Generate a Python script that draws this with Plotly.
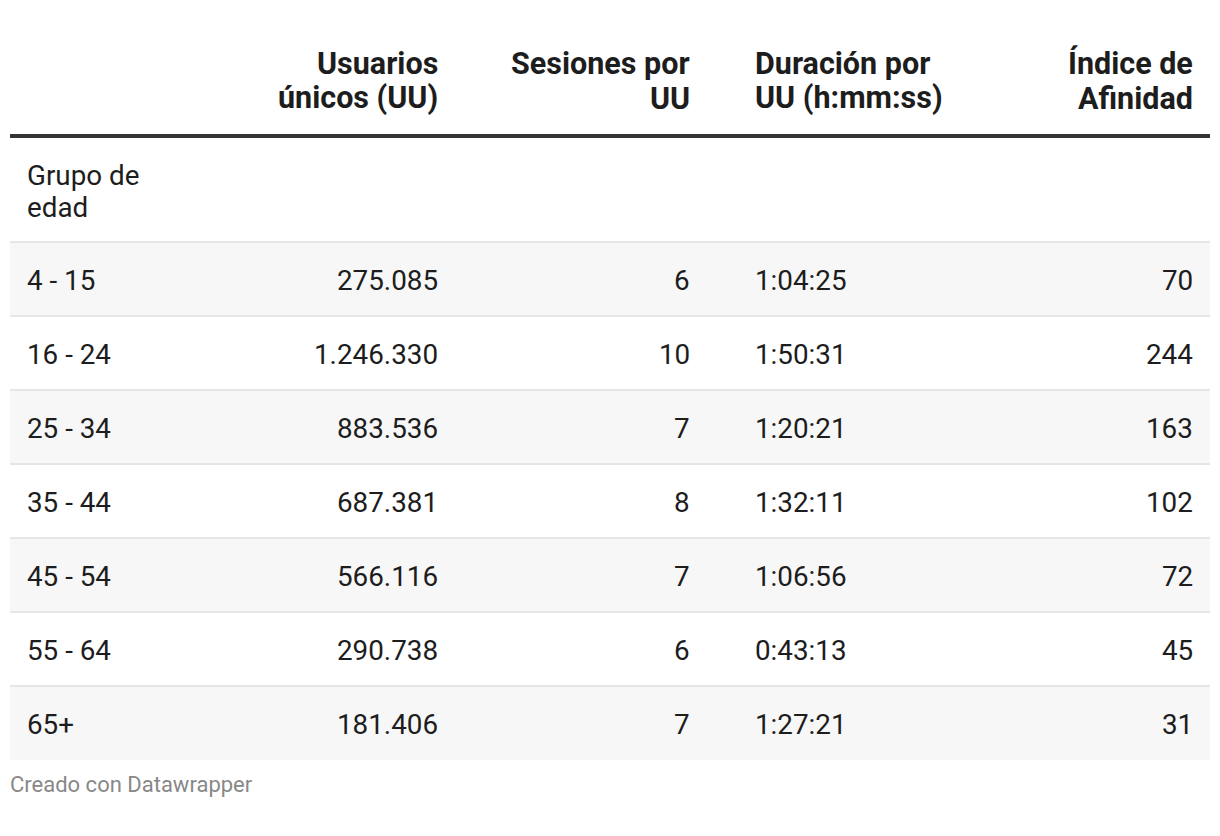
import plotly.graph_objects as go

#--- datos de la tabla
grupos = ["4 - 15", "16 - 24", "25 - 34", "35 - 44", "45 - 54", "55 - 64", "65+"]
usuarios = [275085, 1246330, 883536, 687381, 566116, 290738, 181406]
sesiones = [6, 10, 7, 8, 7, 6, 7]
duracion = ["1:04:25", "1:50:31", "1:20:21", "1:32:11", "1:06:56", "0:43:13", "1:27:21"]
afinidad = [70, 244, 163, 102, 72, 45, 31]
encabezados = ["", "Usuarios<br>únicos (UU)", "Sesiones por<br>UU", "Duración por<br>UU (h:mm:ss)", "Índice de<br>Afinidad"]
etiqueta_grupo = "Grupo de<br>edad"
pie = "Creado con Datawrapper"

#--- geometria (pixeles de la pagina; el body del html tiene 8px de margen)
W, H = 1220, 836
M = 8
x0, x1 = 10, 1210
columnas = [(27, "left"), (438, "right"), (690, "right"), (755, "left"), (1193, "right")]
fila_top = 242
fila_alto = 74
txt = "#1d1d1d"
fuente = "Roboto, Arial, sans-serif"
PAD = 2  # relleno interno de las anotaciones


def miles(v):
    return f"{v:,}".replace(",", ".")


def texto(fig, s, x, y_ult, align, size, lh, bold=False, color=txt):
    # lineas de abajo hacia arriba, ultima linea centrada en y_ult
    xa = x - PAD if align == "left" else x + PAD
    lineas = s.split("<br>")
    for k, l in enumerate(lineas):
        y = y_ult - (len(lineas) - 1 - k) * lh
        fig.add_annotation(x=xa, y=y, xref="x", yref="y", text="<b>" + l + "</b>" if bold else l,
                           showarrow=False, xanchor=align, yanchor="middle",
                           font=dict(family=fuente, size=size, color=color))


filas = [[g, miles(u), str(s), d, str(a)] for g, u, s, d, a in zip(grupos, usuarios, sesiones, duracion, afinidad)]

fig = go.Figure()

# fondos alternos y separadores
for i in range(len(filas)):
    top = fila_top + i * fila_alto
    if i % 2 == 0:
        fig.add_shape(type="rect", x0=x0, x1=x1, y0=top, y1=top + fila_alto,
                      fillcolor="#f7f7f7", line_width=0, layer="below")
    fig.add_shape(type="line", x0=x0, x1=x1, y0=top, y1=top, line=dict(color="#e6e6e6", width=2))

fig.add_shape(type="line", x0=x0, x1=x1, y0=136, y1=136, line=dict(color="#333333", width=4))

# encabezados
for (cx, al), h in zip(columnas, encabezados):
    if h:
        texto(fig, h, cx, 98, al, 30.5, 35, bold=True)

texto(fig, etiqueta_grupo, columnas[0][0], 207, "left", 27.8, 32)

for i, fila in enumerate(filas):
    cy = fila_top + i * fila_alto + fila_alto / 2 + 1
    for (cx, al), v in zip(columnas, fila):
        texto(fig, v, cx, cy, al, 27.8, 32)

texto(fig, pie, 10, 784, "left", 22, 26, color="#888888")

fig.update_xaxes(range=[M, W - M], visible=False, fixedrange=True)
fig.update_yaxes(range=[H - M, M], visible=False, fixedrange=True)
fig.update_layout(width=W - 2 * M, height=H - 2 * M, margin=dict(l=0, r=0, t=0, b=0),
                  plot_bgcolor="white", paper_bgcolor="white", showlegend=False)

fig.write_html("out.html")
